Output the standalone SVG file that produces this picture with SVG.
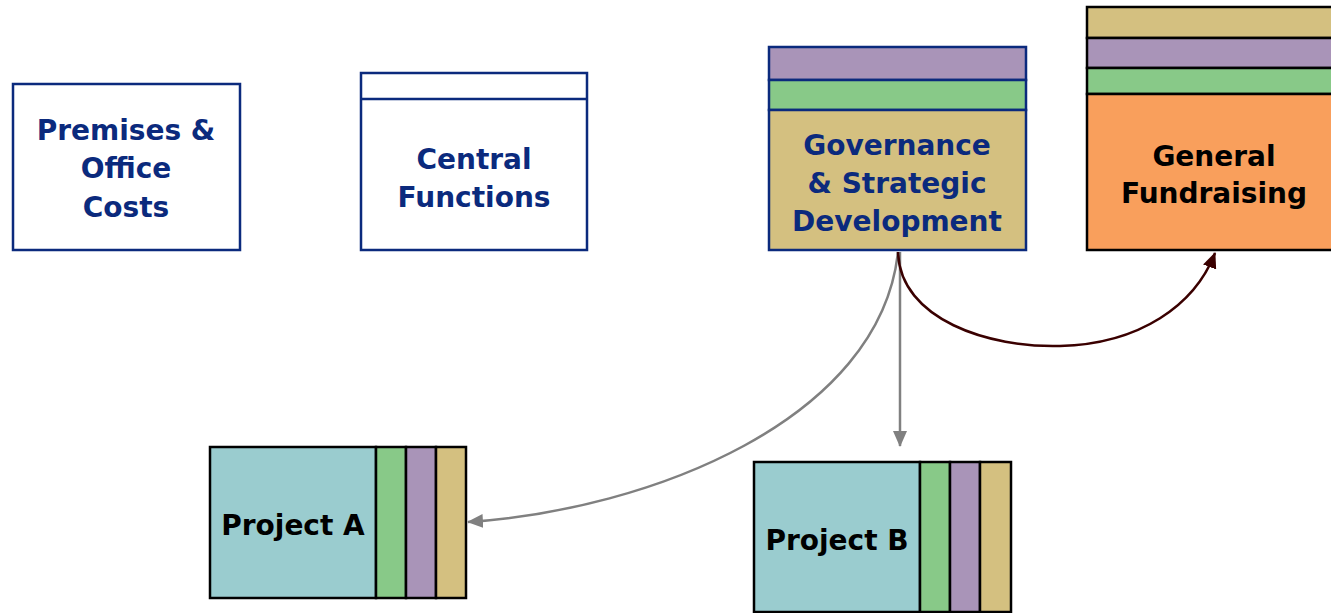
<svg xmlns="http://www.w3.org/2000/svg" width="1331" height="613" viewBox="0 0 1331 613">
<defs>
<style>
.nv{stroke:#0b2a7d;stroke-width:2.5}
.bk{stroke:#000;stroke-width:2.5}
.t{font-family:"DejaVu Sans",Verdana,sans-serif;font-weight:bold;font-size:28px;text-anchor:middle}
.tn{fill:#0b2a7d}
.tb{fill:#000}
.pu{fill:#a994b8}
.gr{fill:#88c988}
.tan{fill:#d4c080}
.or{fill:#f99f5c}
.te{fill:#9acccf}
</style>
<marker id="ag" viewBox="0 0 16 14" refX="15" refY="7" markerWidth="16" markerHeight="14" markerUnits="userSpaceOnUse" orient="auto"><path d="M0,0 L16,7 L0,14 Z" fill="#808080"/></marker>
<marker id="am" viewBox="0 0 16 14" refX="15" refY="7" markerWidth="16" markerHeight="14" markerUnits="userSpaceOnUse" orient="auto"><path d="M0,0 L16,7 L0,14 Z" fill="#3a0000"/></marker>
</defs>
<rect width="1331" height="613" fill="#fff"/>
<g id="premises">
<rect x="13" y="84" width="227" height="166" fill="#fff" class="nv"/>
<text class="t tn" x="126" y="140">Premises &amp;</text>
<text class="t tn" x="126" y="178">Office</text>
<text class="t tn" x="126" y="217">Costs</text>
</g>
<g id="central">
<rect x="361" y="73" width="226" height="177" fill="#fff" class="nv"/>
<line x1="361" y1="99" x2="587" y2="99" class="nv"/>
<text class="t tn" x="474" y="169">Central</text>
<text class="t tn" x="474" y="207">Functions</text>
</g>
<g id="governance">
<rect x="769" y="47" width="257" height="33" class="pu nv"/>
<rect x="769" y="80" width="257" height="30" class="gr nv"/>
<rect x="769" y="110" width="257" height="140" class="tan nv"/>
<text class="t tn" x="897" y="155">Governance</text>
<text class="t tn" x="897" y="193">&amp; Strategic</text>
<text class="t tn" x="897" y="231">Development</text>
</g>
<g id="fundraising">
<rect x="1087" y="7" width="250" height="31" class="tan bk"/>
<rect x="1087" y="38" width="250" height="30" class="pu bk"/>
<rect x="1087" y="68" width="250" height="26" class="gr bk"/>
<rect x="1087" y="94" width="250" height="156" class="or bk"/>
<text class="t tb" x="1214" y="166">General</text>
<text class="t tb" x="1214" y="203">Fundraising</text>
</g>
<g id="projectA">
<rect x="210" y="447" width="166" height="151" class="te bk"/>
<rect x="376" y="447" width="30" height="151" class="gr bk"/>
<rect x="406" y="447" width="30" height="151" class="pu bk"/>
<rect x="436" y="447" width="30" height="151" class="tan bk"/>
<text class="t tb" x="293" y="535">Project A</text>
</g>
<g id="projectB">
<rect x="754" y="462" width="166" height="150" class="te bk"/>
<rect x="920" y="462" width="30" height="150" class="gr bk"/>
<rect x="950" y="462" width="30" height="150" class="pu bk"/>
<rect x="980" y="462" width="31" height="150" class="tan bk"/>
<text class="t tb" x="837" y="550">Project B</text>
</g>
<g id="connectors" fill="none">
<path d="M898,252 C880,420 650,510 468,522" stroke="#808080" stroke-width="2.5" marker-end="url(#ag)"/>
<path d="M900,252 L900,446" stroke="#808080" stroke-width="2.5" marker-end="url(#ag)"/>
<path d="M898,252 C900,320 990,348 1060,346 C1140,344 1195,305 1215,253" stroke="#3a0000" stroke-width="2.5" marker-end="url(#am)"/>
</g>
</svg>
